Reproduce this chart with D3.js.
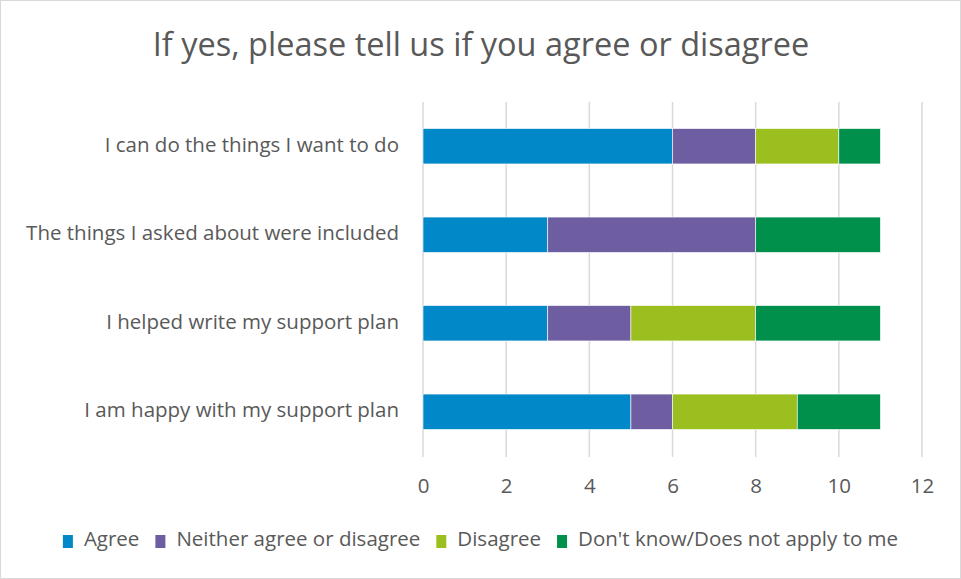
<!DOCTYPE html>
<html>
<head>
<meta charset="utf-8">
<script src="https://cdn.jsdelivr.net/npm/d3@7"></script>
<style>
  html, body { margin: 0; padding: 0; background: #fff; }
  svg text { font-family: "Open Sans", "DejaVu Sans", sans-serif; fill: #595959; }
</style>
</head>
<body>
<svg id="chart" width="961" height="579"></svg>
<script>
// Survey statements, listed top to bottom
const categories = [
  "I can do the things I want to do",
  "The things I asked about were included",
  "I helped write my support plan",
  "I am happy with my support plan"
];

// Response series (counts per statement, same order as categories)
const seriesNames = ["Agree", "Neither agree or disagree", "Disagree", "Don't know/Does not apply to me"];
const agree        = [6, 3, 3, 5];
const neither      = [2, 5, 2, 1];
const disagree     = [2, 0, 3, 3];
const dontKnow     = [1, 3, 3, 2];
const seriesColors = ["#0088C8", "#6E5DA1", "#9BBF1F", "#00904B"];

const xTicks = [0, 2, 4, 6, 8, 10, 12];
const title = "If yes, please tell us if you agree or disagree";

const svg = d3.select("#chart");
const W = 961, H = 579;
const labelSize = "20.5px";

// chart frame
svg.append("rect")
  .attr("x", 0.5).attr("y", 0.5)
  .attr("width", W - 1).attr("height", H - 1)
  .attr("fill", "#fff").attr("stroke", "#d9d9d9");

// title
svg.append("text")
  .attr("x", 481).attr("y", 47)
  .attr("dominant-baseline", "middle")
  .attr("text-anchor", "middle")
  .style("font-size", "32.5px")
  .text(title);

const x = d3.scaleLinear().domain([0, 12]).range([423, 922]);
const y = d3.scaleBand().domain(categories).range([102, 456])
  .paddingInner(0.6).paddingOuter(0.3);

// vertical gridlines
svg.append("g").selectAll("line").data(xTicks).join("line")
  .attr("x1", d => x(d)).attr("x2", d => x(d))
  .attr("y1", 102).attr("y2", 457)
  .attr("stroke", "#d9d9d9").attr("stroke-width", 1.5);

// stacked bars
const rows = categories.map((c, i) => ({
  category: c,
  [seriesNames[0]]: agree[i],
  [seriesNames[1]]: neither[i],
  [seriesNames[2]]: disagree[i],
  [seriesNames[3]]: dontKnow[i]
}));
const stacked = d3.stack().keys(seriesNames)(rows);

svg.append("g").selectAll("g").data(stacked).join("g")
  .attr("fill", (d, i) => seriesColors[i])
  .selectAll("rect").data(d => d.filter(s => s[1] > s[0])).join("rect")
  .attr("x", d => x(d[0]))
  .attr("width", d => x(d[1]) - x(d[0]))
  .attr("y", d => y(d.data.category))
  .attr("height", y.bandwidth())
  .attr("stroke", "#fff").attr("stroke-width", 0.6);

// x axis tick labels
const xAxis = d3.axisBottom(x).tickValues(xTicks).tickSize(0).tickPadding(0);
const gx = svg.append("g").attr("transform", "translate(0,488)").call(xAxis);
gx.select(".domain").remove();
gx.selectAll("text")
  .attr("y", 0).attr("dy", null)
  .attr("dominant-baseline", "middle")
  .style("font-size", labelSize).style("font-family", null).attr("fill", "#595959");

// category labels
const yAxis = d3.axisLeft(y).tickSize(0).tickPadding(0);
const gy = svg.append("g").attr("transform", "translate(399,0)").call(yAxis);
gy.select(".domain").remove();
gy.selectAll("text")
  .attr("dy", null).attr("x", 0)
  .attr("dominant-baseline", "middle")
  .style("font-size", labelSize).style("font-family", null).attr("fill", "#595959");

// legend: items laid out in a row, centred under the chart
const swatchToText = 21, itemGap = 16;
const legend = svg.append("g");
const items = legend.selectAll("g").data(seriesNames).join("g");
items.append("rect")
  .attr("y", -6).attr("width", 10).attr("height", 13)
  .attr("fill", (d, i) => seriesColors[i]);
items.append("text")
  .attr("x", swatchToText).attr("y", 0)
  .attr("dominant-baseline", "middle")
  .style("font-size", labelSize)
  .text(d => d);
let cursor = 0;
items.each(function () {
  const g = d3.select(this);
  g.attr("transform", `translate(${cursor},0)`);
  cursor += swatchToText + g.select("text").node().getComputedTextLength() + itemGap;
});
const legendWidth = cursor - itemGap;
legend.attr("transform", `translate(${(W - legendWidth) / 2},541)`);
</script>
</body>
</html>
